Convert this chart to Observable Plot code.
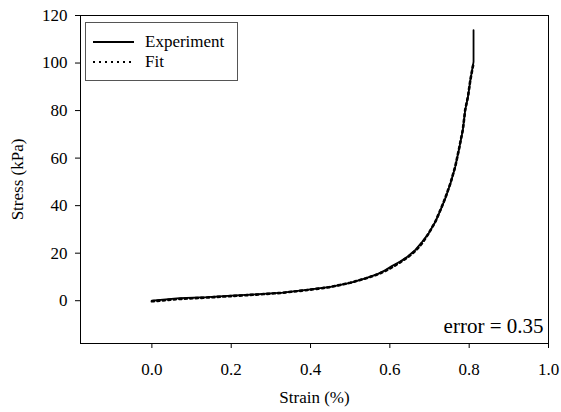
<!DOCTYPE html>
<html>
<head>
<meta charset="utf-8">
<script src="https://cdn.jsdelivr.net/npm/d3@7"></script>
<script src="https://cdn.jsdelivr.net/npm/@observablehq/plot@0.6"></script>
<style>
  html, body { margin: 0; padding: 0; background: #fff; }
  #wrap { position: relative; width: 561px; height: 412px; }
  #legend { position: absolute; left: 85px; top: 22px; width: 153px; height: 59px;
    border: 1px solid #555; background: #fff; box-sizing: border-box;
    font-family: "Liberation Serif", "Times New Roman", serif; font-size: 17px; }
</style>
</head>
<body>
<div id="wrap"></div>
<script>
// Experimental stress-strain curve (strain %, stress kPa)
const expStrain = [0, 0.07, 0.14, 0.2, 0.26, 0.33, 0.4, 0.45, 0.5, 0.54, 0.57, 0.589, 0.605, 0.625, 0.645, 0.665, 0.682, 0.698, 0.715, 0.728, 0.740, 0.753, 0.765, 0.774, 0.784, 0.790, 0.797, 0.803, 0.811, 0.811];
const expStress = [0, 1.1, 1.5, 2.1, 2.7, 3.4, 4.8, 5.8, 7.5, 9.5, 11.3, 12.9, 14.6, 16.4, 18.6, 21.5, 24.9, 28.4, 33.3, 38.2, 43.1, 49.4, 56.4, 63.4, 71.8, 80.2, 85.8, 92.8, 100.5, 113.8];
// Model fit
const fitStrain = [0, 0.07, 0.14, 0.2, 0.26, 0.33, 0.4, 0.45, 0.5, 0.54, 0.57, 0.589, 0.605, 0.625, 0.645, 0.665, 0.682, 0.698, 0.715, 0.728, 0.740, 0.753, 0.765, 0.774, 0.784, 0.790, 0.797, 0.803, 0.811];
const fitStress = [0, 1.0, 1.6, 2.2, 2.8, 3.6, 4.9, 6.0, 7.8, 9.7, 11.4, 12.8, 14.3, 16.3, 18.5, 21.3, 24.6, 28.6, 33.6, 38.6, 43.6, 49.8, 56.8, 63.8, 72.2, 80.6, 86.2, 93.2, 100.3];
const xTicks = [0, 0.2, 0.4, 0.6, 0.8, 1.0];
const yTicks = [0, 20, 40, 60, 80, 100, 120];
const seriesNames = ["Experiment", "Fit"];
const annotation = "error = 0.35";

const expData = expStrain.map((x, i) => ({x, y: expStress[i]}));
const fitData = fitStrain.map((x, i) => ({x, y: fitStress[i]}));

const chart = Plot.plot({
  width: 561,
  height: 412,
  marginLeft: 80,
  marginRight: 13,
  marginTop: 15,
  marginBottom: 69,
  style: {fontFamily: "'Liberation Serif', 'Times New Roman', serif", fontSize: "17px", color: "#000", background: "#fff"},
  x: {domain: [-0.18, 1.0], ticks: xTicks, tickFormat: d3.format(".1f"), tickSize: 5, tickPadding: 14,
      label: "Strain (%)", labelArrow: "none", labelAnchor: "center", labelOffset: 59},
  y: {domain: [-18, 120], ticks: yTicks, tickSize: 5, tickPadding: 8,
      label: "Stress (kPa)", labelArrow: "none", labelAnchor: "center", labelOffset: 70},
  marks: [
    Plot.frame({stroke: "#000", strokeWidth: 1}),
    Plot.line(expData, {x: "x", y: "y", stroke: "#000", strokeWidth: 1.8}),
    Plot.line(fitData, {x: "x", y: "y", stroke: "#000", strokeWidth: 2.6, strokeDasharray: "2.2,3.3", dy: 0.6}),
    Plot.text([annotation], {frameAnchor: "bottom-right", dx: -5, dy: -17, lineAnchor: "middle", textAnchor: "end", fontSize: 21, fill: "#000"})
  ]
});
const wrap = document.getElementById("wrap");
wrap.appendChild(chart);

// Legend
const legend = document.createElement("div");
legend.id = "legend";
const ns = "http://www.w3.org/2000/svg";
const lsvg = document.createElementNS(ns, "svg");
lsvg.setAttribute("width", 151);
lsvg.setAttribute("height", 57);
seriesNames.forEach((name, i) => {
  const yy = 19 + i * 20;
  const ln = document.createElementNS(ns, "line");
  ln.setAttribute("x1", 7); ln.setAttribute("x2", 48);
  ln.setAttribute("y1", yy); ln.setAttribute("y2", yy);
  ln.setAttribute("stroke", "#000");
  ln.setAttribute("stroke-width", i === 0 ? 1.8 : 2.2);
  if (i === 1) ln.setAttribute("stroke-dasharray", "2,4");
  lsvg.appendChild(ln);
  const t = document.createElementNS(ns, "text");
  t.setAttribute("x", 59); t.setAttribute("y", yy);
  t.setAttribute("dy", "0.32em");
  t.setAttribute("font-family", "'Liberation Serif', 'Times New Roman', serif");
  t.setAttribute("font-size", 17);
  t.textContent = name;
  lsvg.appendChild(t);
});
legend.appendChild(lsvg);
wrap.appendChild(legend);
</script>
</body>
</html>
